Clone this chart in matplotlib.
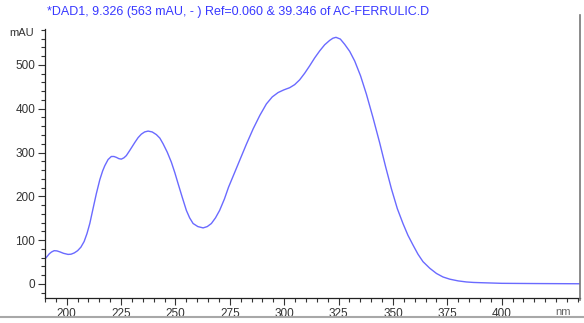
import matplotlib.pyplot as plt
from matplotlib.lines import Line2D
from matplotlib.ticker import MultipleLocator

plt.rcParams["font.family"] = ["Liberation Sans", "DejaVu Sans"]

# UV spectrum of the ferulic acid peak (wavelength in nm, absorbance in mAU)
wavelength = [190, 191, 192, 193, 194.2, 195.5, 197, 198.5, 200.6, 202,
              203.5, 205, 206.5, 208, 209.3, 210.6, 212, 213.6, 215.2, 216.5,
              217.5, 219, 220.5, 221.7, 222.8, 224, 225.1, 226.3, 227.4, 229,
              231.3, 232.8, 234.3, 235.8, 237.4, 239.3, 241.2, 242.8, 244.3,
              246.2, 248.1, 249.7, 251.2, 253.1, 255.0, 256.5, 258.1, 260.3,
              262.7, 264.6, 266.5, 268.4, 270.3, 272.5, 274.4, 277, 279.5,
              282.6, 285.7, 288.8, 291.8, 294.5, 297.2, 299.8, 302.5, 304.8,
              307.1, 309.4, 311.7, 314, 316.3, 318.6, 320.9, 322.4, 323.8,
              325.8, 327.8, 330.1, 332.4, 335.1, 337.8, 340.8, 343.9, 346.6,
              349.3, 352, 354.6, 356.9, 359.2, 361.5, 363.8, 366.9, 370, 373,
              376.1, 380, 383.8, 387, 390, 400, 415, 436]
absorbance = [57, 63, 69, 73, 76, 75.5, 73, 70, 67.5, 68,
              71, 76, 84, 97, 115, 138, 170, 206, 238, 258,
              270, 284, 291, 291, 289, 286, 285, 288, 293, 305,
              323, 334, 342, 347, 349, 347, 341, 333, 320,
              301, 278, 254, 229, 198, 168, 151, 138, 131,
              128, 131, 138, 151, 168, 194, 221, 252, 282,
              319, 354, 385, 411, 427, 437, 443, 448, 455,
              466, 481, 498, 516, 532, 546, 556, 561, 563,
              559, 547, 531, 509, 475, 433, 380, 322, 268,
              217, 172, 138, 111, 89, 68, 51, 36, 24, 16,
              11, 7, 4.6, 3.5, 3, 1.5, 1, 0.5]

title = "*DAD1, 9.326 (563 mAU, - ) Ref=0.060 & 39.346 of AC-FERRULIC.D"

fig = plt.figure(figsize=(5.84, 3.23), dpi=100)
ax = fig.add_axes([45 / 584, 25 / 323, 535 / 584, 269 / 323])

ax.plot(wavelength, absorbance, color="#6a6aff", linewidth=1.0)

ax.set_xlim(190, 436)
ax.set_ylim(-32, 582)
ax.xaxis.set_minor_locator(MultipleLocator(5))
ax.yaxis.set_major_locator(MultipleLocator(100))
ax.yaxis.set_minor_locator(MultipleLocator(20))
ax.set_xticks([200, 225, 250, 275, 300, 325, 350, 375, 400])
ax.tick_params(which="major", length=5, width=0.8, labelsize=8.5,
               colors="#333333", pad=2)
ax.tick_params(which="minor", length=3, width=0.8, colors="#333333")

for side in ("top", "right"):
    ax.spines[side].set_visible(False)
for side in ("left", "bottom"):
    ax.spines[side].set_linewidth(0.9)
    ax.spines[side].set_color("#222222")

# unit labels
fig.text(22 / 584, 1 - 33 / 323, "mAU", fontsize=8, color="#333333",
         ha="center", va="center")
fig.text(563 / 584, 1 - 312 / 323, "nm", fontsize=8, color="#666666",
         ha="center", va="center")

fig.text(47 / 584, 1 - 12 / 323, title, fontsize=9, color="#3838ff",
         ha="left", va="center")

# frame lines around the plot area
fig.add_artist(Line2D([580 / 584, 580 / 584], [1 - 300 / 323, 1 - 15 / 323],
                      color="#777777", linewidth=1.2))
fig.add_artist(Line2D([0, 1], [1 - 317 / 323, 1 - 317 / 323],
                      color="#a8a8a8", linewidth=1.5))

fig.savefig("out.png", dpi=100)
